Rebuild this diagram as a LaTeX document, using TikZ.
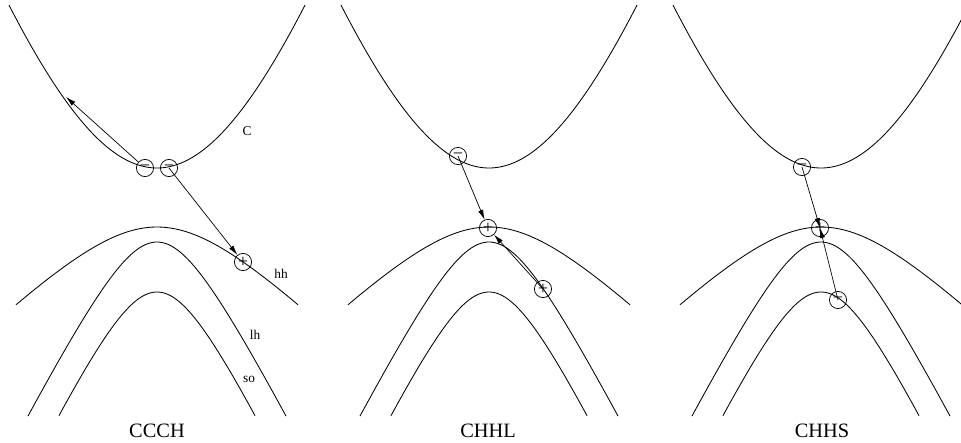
\documentclass[tikz,border=0pt]{standalone}
\usepackage{fontspec}
\setmainfont{Liberation Serif}
\usetikzlibrary{arrows.meta}

\begin{document}
\begin{tikzpicture}[x=0.025cm,y=-0.025cm,
    band/.style={line width=0.6pt},
    carrier/.style={circle,draw,line width=0.5pt,inner sep=0pt,minimum size=0.43cm,font=\fontsize{13}{13}\selectfont},
    hop/.style={-{Latex[length=2.5mm,width=1.3mm]},line width=0.5pt},
    lbl/.style={font=\fontsize{9.5}{10}\selectfont},
    title/.style={font=\fontsize{14.5}{15}\selectfont}]

    % Frame of the whole picture
    \clip (0,0) rectangle (961,442);

    % Band structure, one copy per process
    \foreach \cx in {157,489,821}{
      \begin{scope}[shift={(\cx,0)}]
        \draw[band] plot[domain=-148:148,samples=80] (\x,{168-526*(sqrt(1+(\x/175)^2)-1)});
        \draw[band] plot[domain=-141:141,samples=80] (\x,{227+86*(sqrt(1+(\x/87)^2)-1)});
        \draw[band] plot[domain=-129:129,samples=80] (\x,{242+98.5*(sqrt(1+(\x/50)^2)-1)});
        \draw[band] plot[domain=-98:98,samples=80] (\x,{292+103*(sqrt(1+(\x/50)^2)-1)});
      \end{scope}
    }

    % Band labels
    \node[lbl] (lC) at (247,131) {C};
    \node[lbl] (lhh) at (281,274) {hh};
    \node[lbl] (llh) at (255,335) {lh};
    \node[lbl] (lso) at (249,379) {so};

    % CCCH
    \node[carrier] (ca) at (145,168) {−};
    \node[carrier] (cb) at (169,168) {−};
    \node[carrier] (ch) at (243,262) {+};
    \coordinate (cup) at (66,97);
    \draw[hop] (ca) -- (cup);
    \draw[hop] (cb.center) -- (ch);

    % CHHL
    \node[carrier] (la) at (458,156) {−};
    \node[carrier] (lb) at (488,228) {+};
    \node[carrier] (lc) at (543,289) {+};
    \draw[hop] (la.center) -- (lb);
    \draw[hop] (lc.center) -- (lb);

    % CHHS
    \node[carrier] (sa) at (802,167) {−};
    \node[carrier] (sb) at (820,228) {+};
    \node[carrier] (sc) at (838,300) {−};
    \draw[hop] (sa.center) -- (sb.center);
    \draw[hop] (sc.center) -- (sb.center);

    % Process names
    \node[title] (tA) at (157,431) {CCCH};
    \node[title] (tB) at (488,431) {CHHL};
    \node[title] (tC) at (822,431) {CHHS};

\end{tikzpicture}
\end{document}
